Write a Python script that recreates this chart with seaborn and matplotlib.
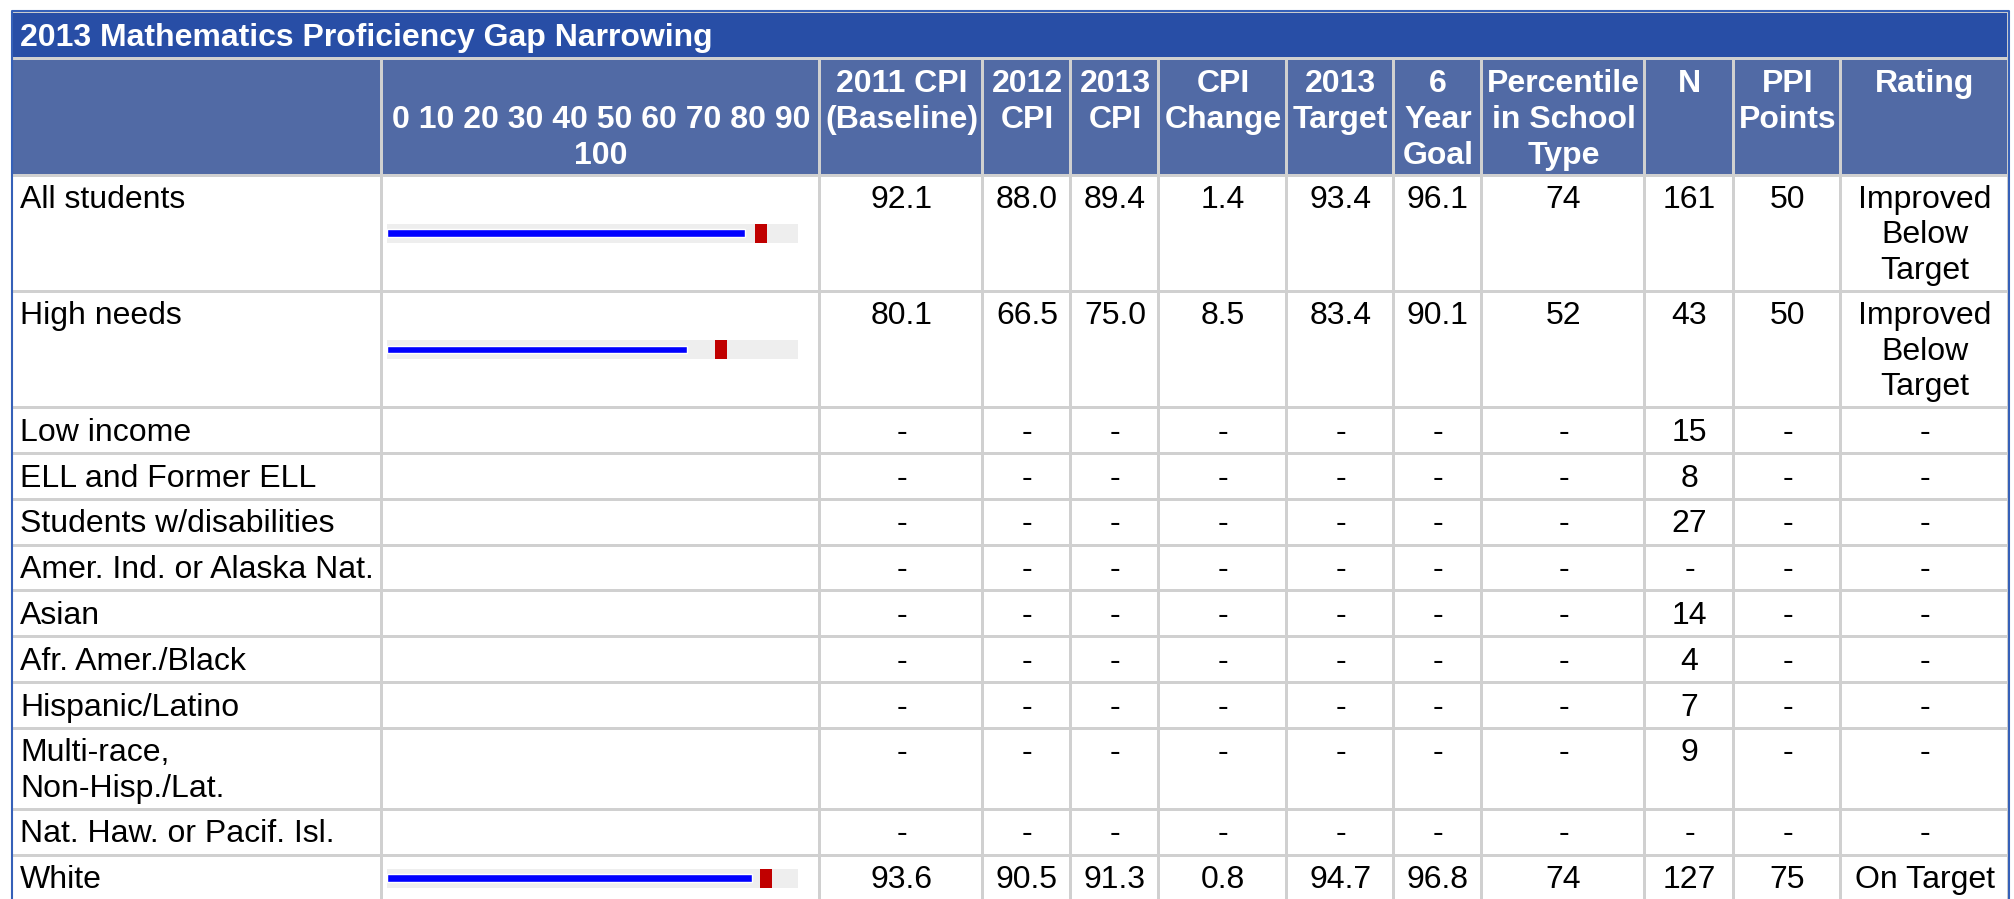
import numpy as np
import matplotlib.pyplot as plt
from matplotlib.patches import Rectangle
import seaborn as sns

sns.set_style("white")
plt.rcParams['font.family'] = ['Liberation Sans', 'DejaVu Sans']
plt.rcParams['text.color'] = 'black'

title = "2013 Mathematics Proficiency Gap Narrowing"
headers = ["", "0 10 20 30 40 50 60 70 80 90\n100", "2011 CPI\n(Baseline)", "2012\nCPI",
           "2013\nCPI", "CPI\nChange", "2013\nTarget", "6\nYear\nGoal",
           "Percentile\nin School\nType", "N", "PPI\nPoints", "Rating"]
groups = ["All students", "High needs", "Low income", "ELL and Former ELL",
          "Students w/disabilities", "Amer. Ind. or Alaska Nat.", "Asian",
          "Afr. Amer./Black", "Hispanic/Latino", "Multi-race,\nNon-Hisp./Lat.",
          "Nat. Haw. or Pacif. Isl.", "White"]
nan = np.nan
cpi_2011 = [92.1, 80.1, nan, nan, nan, nan, nan, nan, nan, nan, nan, 93.6]
cpi_2012 = [88.0, 66.5, nan, nan, nan, nan, nan, nan, nan, nan, nan, 90.5]
cpi_2013 = [89.4, 75.0, nan, nan, nan, nan, nan, nan, nan, nan, nan, 91.3]
cpi_change = [1.4, 8.5, nan, nan, nan, nan, nan, nan, nan, nan, nan, 0.8]
target_2013 = [93.4, 83.4, nan, nan, nan, nan, nan, nan, nan, nan, nan, 94.7]
goal_6yr = [96.1, 90.1, nan, nan, nan, nan, nan, nan, nan, nan, nan, 96.8]
percentile = [74, 52, nan, nan, nan, nan, nan, nan, nan, nan, nan, 74]
n_students = [161, 43, 15, 8, 27, nan, 14, 4, 7, 9, nan, 127]
ppi_points = [50, 50, nan, nan, nan, nan, nan, nan, nan, nan, nan, 75]
rating = ["Improved\nBelow\nTarget", "Improved\nBelow\nTarget", "-", "-", "-", "-",
          "-", "-", "-", "-", "-", "On Target"]
scale_max = 102.75

W, H = 2015, 899
fig = plt.figure(figsize=(W / 100, H / 100), dpi=100)
ax = fig.add_axes([0, 0, 1, 1])
ax.set_xlim(0, W)
ax.set_ylim(H, 0)
ax.axis('off')

title_blue = '#284ea6'
head_blue = '#516aa5'
grid_gray = '#d0d0d0'
fs = 23


def fmt1(v):
    return '-' if np.isnan(v) else f"{v:.1f}"


def fmt0(v):
    return '-' if np.isnan(v) else f"{int(v)}"


# cell texts per row
rows = []
for i in range(len(groups)):
    rows.append([groups[i], "", fmt1(cpi_2011[i]), fmt1(cpi_2012[i]), fmt1(cpi_2013[i]),
                 fmt1(cpi_change[i]), fmt1(target_2013[i]), fmt1(goal_6yr[i]),
                 fmt0(percentile[i]), fmt0(n_students[i]), fmt0(ppi_points[i]), rating[i]])

# layout
xe = [12, 382, 820, 983, 1071, 1159, 1287, 1394, 1482, 1645, 1734, 1841, 2009]
line_h = 35.3
ye = [175]
for r in rows:
    nlines = max(t.count('\n') + 1 for t in r)
    ye.append(ye[-1] + 45.8 + line_h * (nlines - 1))
g = 1.5

# gray background (becomes grid lines)
ax.add_patch(Rectangle((xe[0], 11.5), xe[-1] - xe[0], ye[-1] - 11.5, color=grid_gray, lw=0))
# title bar
ax.add_patch(Rectangle((xe[0] + g, 11.5 + g), xe[-1] - xe[0] - 2 * g, 58 - 11.5 - 2 * g,
                       color=title_blue, lw=0))
ax.text(20, 46, title, color='white', fontsize=fs, fontweight='bold', va='baseline')

# header
for c in range(len(headers)):
    ax.add_patch(Rectangle((xe[c] + g, 58 + g), xe[c + 1] - xe[c] - 2 * g, 175 - 58 - 2 * g,
                           color=head_blue, lw=0))
    lines = headers[c].split('\n') if headers[c] else []
    start = 92 if c != 1 else 92 + 36
    cx = (xe[c] + xe[c + 1]) / 2
    for k, ln in enumerate(lines):
        ax.text(cx, start + 36 * k, ln, color='white', fontsize=fs, fontweight='bold',
                ha='center', va='baseline')

# data rows
for r, vals in enumerate(rows):
    y0, y1 = ye[r], ye[r + 1]
    for c in range(len(headers)):
        ax.add_patch(Rectangle((xe[c] + g, y0 + g), xe[c + 1] - xe[c] - 2 * g, y1 - y0 - 2 * g,
                               color='white', lw=0))
        if c == 1:
            continue
        for k, ln in enumerate(vals[c].split('\n')):
            if c == 0:
                ax.text(20, y0 + 33 + line_h * k, ln, fontsize=fs, ha='left', va='baseline')
            else:
                ax.text((xe[c] + xe[c + 1]) / 2, y0 + 33 + line_h * k, ln, fontsize=fs,
                        ha='center', va='baseline')
    # bullet bar
    if not np.isnan(cpi_2013[r]):
        yc = (y0 + y1) / 2
        bx0, bx1 = 387, 798
        bax = fig.add_axes([bx0 / W, 1 - (yc + 9.5) / H, (bx1 - bx0) / W, 19 / H])
        bax.set_facecolor('#eeeeee')
        sns.barplot(x=[cpi_2013[r]], y=[0], orient='h', color='#0000ff', width=0.4,
                    saturation=1, ax=bax)
        bax.barh(0, 3, left=target_2013[r] - 1.5, height=1.0, color='#c00000', lw=0)
        bax.set_xlim(0, scale_max)
        bax.set_ylim(-0.5, 0.5)
        bax.set_xticks([])
        bax.set_yticks([])
        bax.set_xlabel('')
        bax.set_ylabel('')
        for s in bax.spines.values():
            s.set_visible(False)

# outer frame
ax.plot([xe[0], xe[0], xe[-1], xe[-1]], [ye[-1], 10.5, 10.5, ye[-1]], color='#3560b8', lw=1.5)

fig.savefig('out.png', dpi=100)
